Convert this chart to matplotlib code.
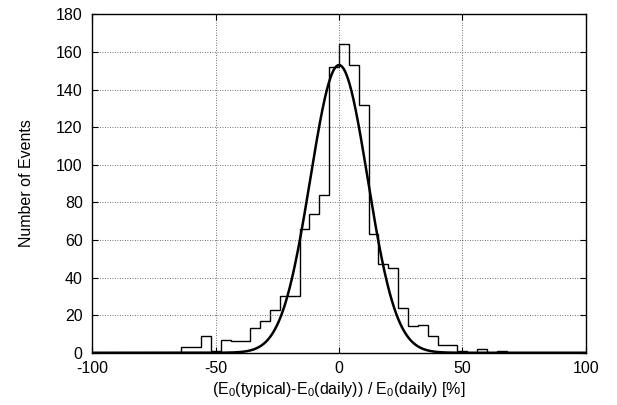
import numpy as np
import matplotlib
matplotlib.use("Agg")
import matplotlib.pyplot as plt

plt.rcParams['font.family'] = ['Liberation Sans', 'DejaVu Sans']
plt.rcParams['mathtext.fontset'] = 'custom'
plt.rcParams['mathtext.rm'] = 'Liberation Sans'
plt.rcParams['mathtext.default'] = 'regular'
plt.rcParams['axes.unicode_minus'] = False

# Histogram data (bin width 4)
bin_edges = list(range(-64, 72, 4))
counts = [3, 3, 9, 1, 7, 6, 6, 13, 17, 23, 30, 30, 66, 74, 84, 152,
          164, 153, 132, 63, 47, 45, 24, 14, 15, 9, 4, 4, 1, 0, 2, 0, 1]

# Gaussian fit parameters
gauss_amp = 153.0
gauss_mu = 0.0
gauss_sigma = 11.6

x_ticks = [-100, -50, 0, 50, 100]
y_ticks = [0, 20, 40, 60, 80, 100, 120, 140, 160, 180]

fig = plt.figure(figsize=(6.17, 4.05), dpi=100)
ax = fig.add_axes([0.1498, 0.129, 0.7993, 0.8357])

ax.stairs(counts, bin_edges, color='black', linewidth=1.0, baseline=0)
xs = np.linspace(-100, 100, 1000)
ax.plot(xs, gauss_amp * np.exp(-(xs - gauss_mu) ** 2 / (2 * gauss_sigma ** 2)),
        color='black', linewidth=1.8)

ax.set_xlim(-100, 100)
ax.set_ylim(0, 180)
ax.set_xticks(x_ticks)
ax.set_yticks(y_ticks)
ax.grid(True, color='#444444', linestyle=(0, (1, 2)), linewidth=0.6)
ax.tick_params(direction='in', top=True, right=True, labelsize=11.5, length=4)
ax.tick_params(axis='x', pad=6)
ax.tick_params(axis='y', pad=7)
for s in ax.spines.values():
    s.set_linewidth(1.0)

ax.set_ylabel('Number of Events', fontsize=11.5, labelpad=16)
ax.set_xlabel('(E$_0$(typical)-E$_0$(daily)) / E$_0$(daily) [%]', fontsize=11.5, labelpad=3)

fig.savefig('out.png', dpi=100)
